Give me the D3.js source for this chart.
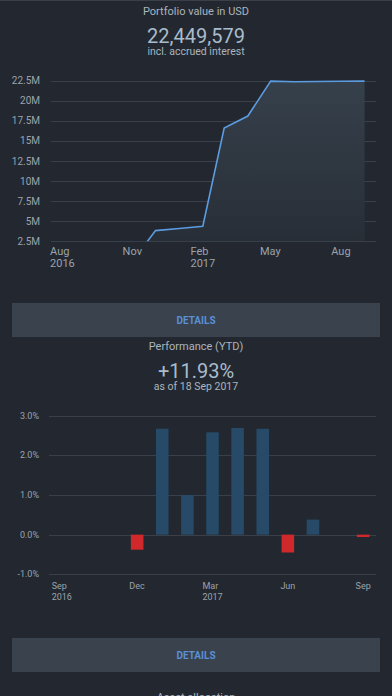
<!DOCTYPE html>
<html>
<head>
<meta charset="utf-8">
<script src="https://cdn.jsdelivr.net/npm/d3@7"></script>
<style>
  html, body { margin: 0; padding: 0; background: #232830; }
  svg { display: block; font-family: Roboto, "Open Sans", sans-serif; }
</style>
</head>
<body>
<div id="canvas"></div>
<script>
// portfolio value (monthly, first of month)
var valueDates = ["2016-11-01", "2016-12-01", "2017-01-01", "2017-02-01", "2017-03-01", "2017-04-01",
                  "2017-05-01", "2017-06-01", "2017-07-01", "2017-08-01", "2017-09-01"];
var valueAmounts = [50000, 3830000, 4100000, 4370000, 16600000, 18100000,
                    22450000, 22360000, 22400000, 22430000, 22449579];
var valueTicks = [2500000, 5000000, 7500000, 10000000, 12500000, 15000000, 17500000, 20000000, 22500000];
var valueTickLabels = ["2.5M", "5M", "7.5M", "10M", "12.5M", "15M", "17.5M", "20M", "22.5M"];
var valueXTicks = [["Aug", "2016"], ["Nov"], ["Feb", "2017"], ["May"], ["Aug"]];
var valueXTickDates = ["2016-08-01", "2016-11-01", "2017-02-01", "2017-05-01", "2017-08-01"];

// monthly performance in %
var perfMonths = ["2016-09", "2016-10", "2016-11", "2016-12", "2017-01", "2017-02", "2017-03",
                  "2017-04", "2017-05", "2017-06", "2017-07", "2017-08", "2017-09"];
var perfValues = [0, 0, 0, -0.38, 2.67, 1.0, 2.58, 2.69, 2.67, -0.45, 0.38, 0, -0.06];
var perfTicks = [-1, 0, 1, 2, 3];
var perfXTicks = {"2016-09": ["Sep", "2016"], "2016-12": ["Dec"], "2017-03": ["Mar", "2017"],
                  "2017-06": ["Jun"], "2017-09": ["Sep"]};

var W = 392, H = 696;
var parse = d3.timeParse("%Y-%m-%d");

function init() {
    var svg = d3.select("#canvas").append("svg")
        .attr("width", W)
        .attr("height", H);
    svg.append("rect").attr("width", W).attr("height", H).attr("fill", "#232830");
    svg.append("line").attr("x1", 0).attr("x2", W).attr("y1", 0.5).attr("y2", 0.5)
        .attr("stroke", "#3b4048");

    var defs = svg.append("defs");
    var grad = defs.append("linearGradient").attr("id", "areaGrad")
        .attr("x1", 0).attr("y1", 0).attr("x2", 0).attr("y2", 1);
    grad.append("stop").attr("offset", "0%").attr("stop-color", "#36404b");
    grad.append("stop").attr("offset", "100%").attr("stop-color", "#262c34");
    defs.append("clipPath").attr("id", "plotClip").append("rect")
        .attr("x", 51).attr("y", 78).attr("width", 325).attr("height", 163.3);

    // header 1 (baselines)
    AddHeader(svg, 15, "Portfolio value in USD", 43, "22,449,579", 54.5, "incl. accrued interest");

    // value chart
    var x = d3.scaleTime()
        .domain([parse("2016-07-17"), parse("2017-09-16")])
        .range([51, 376]);
    var y = d3.scaleLinear()
        .domain([2500000, 22500000])
        .range([241.3, 80.7]);

    var g1 = svg.append("g");
    g1.selectAll("line.grid").data(valueTicks).enter().append("line")
        .attr("x1", 51).attr("x2", 376)
        .attr("y1", function(d) { return Math.round(y(d)) + 0.5; })
        .attr("y2", function(d) { return Math.round(y(d)) + 0.5; })
        .attr("stroke", "#39404a").attr("stroke-width", 1);
    g1.selectAll("text.ylab").data(valueTicks).enter().append("text")
        .attr("x", 40)
        .attr("y", function(d) { return y(d) + 3.5; })
        .attr("text-anchor", "end")
        .attr("font-size", 10)
        .attr("fill", "#9aa3ad")
        .text(function(d, i) { return valueTickLabels[i]; });

    var pts = valueDates.map(function(d, i) { return {date: parse(d), v: valueAmounts[i]}; });
    var plot = g1.append("g").attr("clip-path", "url(#plotClip)");
    plot.append("path").datum(pts)
        .attr("d", d3.area()
            .x(function(d) { return x(d.date); })
            .y0(241.3)
            .y1(function(d) { return y(d.v); }))
        .attr("fill", "url(#areaGrad)");
    plot.append("path").datum(pts)
        .attr("d", d3.line()
            .x(function(d) { return x(d.date); })
            .y(function(d) { return y(d.v); }))
        .attr("fill", "none")
        .attr("stroke", "#5b9be0")
        .attr("stroke-width", 1.6);

    valueXTickDates.forEach(function(d, i) {
        AddTickLabel(g1, x(parse(d)), 255, 12, valueXTicks[i], 11);
    });

    // details button 1
    AddButton(svg, 303, 34);

    // header 2 (baselines)
    AddHeader(svg, 349.5, "Performance (YTD)", 377.5, "+11.93%", 389.5, "as of 18 Sep 2017");

    // performance chart
    var xb = d3.scaleBand()
        .domain(perfMonths)
        .range([49, 376])
        .paddingInner(0.5)
        .paddingOuter(0.26);
    var yb = d3.scaleLinear()
        .domain([-1, 3])
        .range([574.3, 415.7]);

    var g2 = svg.append("g");
    g2.selectAll("line.grid").data(perfTicks).enter().append("line")
        .attr("x1", 49).attr("x2", 376)
        .attr("y1", function(d) { return Math.round(yb(d)) + 0.5; })
        .attr("y2", function(d) { return Math.round(yb(d)) + 0.5; })
        .attr("stroke", "#39404a").attr("stroke-width", 1.2);
    g2.selectAll("text.ylab").data(perfTicks).enter().append("text")
        .attr("x", 39)
        .attr("y", function(d) { return yb(d) + 3; })
        .attr("text-anchor", "end")
        .attr("font-size", 9)
        .attr("fill", "#9aa3ad")
        .text(function(d) { return d.toFixed(1) + "%"; });

    g2.selectAll("rect.bar").data(perfValues).enter().append("rect")
        .attr("x", function(d, i) { return xb(perfMonths[i]); })
        .attr("width", xb.bandwidth())
        .attr("y", function(d) { return d >= 0 ? yb(d) : yb(0); })
        .attr("height", function(d) { return Math.abs(yb(d) - yb(0)); })
        .attr("fill", function(d) { return d >= 0 ? "#264a67" : "#d0282b"; });

    perfMonths.forEach(function(m) {
        if (perfXTicks[m]) {
            AddTickLabel(g2, xb(m) + xb.bandwidth() / 2, 589, 11, perfXTicks[m], 9);
        }
    });

    // details button 2
    AddButton(svg, 638, 34);

    svg.append("text")
        .attr("x", W / 2).attr("y", 701)
        .attr("text-anchor", "middle")
        .attr("font-size", 11)
        .attr("fill", "#aab4be")
        .text("Asset allocation");
}

function AddHeader(svg, y1, title, y2, big, y3, sub) {
    svg.append("text")
        .attr("x", W / 2).attr("y", y1)
        .attr("text-anchor", "middle")
        .attr("font-size", 11)
        .attr("fill", "#aab4be")
        .text(title);
    svg.append("text")
        .attr("x", W / 2).attr("y", y2)
        .attr("text-anchor", "middle")
        .attr("font-size", 20)
        .attr("fill", "#a8bccc")
        .text(big);
    svg.append("text")
        .attr("x", W / 2).attr("y", y3)
        .attr("text-anchor", "middle")
        .attr("font-size", 10.5)
        .attr("fill", "#aab4be")
        .text(sub);
}

function AddButton(svg, y, h) {
    svg.append("rect")
        .attr("x", 12).attr("y", y)
        .attr("width", 368).attr("height", h)
        .attr("fill", "#39424d");
    svg.append("text")
        .attr("x", W / 2).attr("y", y + h / 2 + 3.5)
        .attr("text-anchor", "middle")
        .attr("font-size", 10)
        .attr("font-weight", "bold")
        .attr("fill", "#5b8fd6")
        .text("DETAILS");
}

// block of left-aligned lines, centered on the tick
function AddTickLabel(g, cx, y, dy, lines, size) {
    var t = g.append("text")
        .attr("x", 0).attr("y", y)
        .attr("font-size", size)
        .attr("fill", "#9aa3ad");
    lines.forEach(function(s, i) {
        t.append("tspan").attr("x", 0).attr("y", y + i * dy).text(s);
    });
    var w = t.node().getBBox().width;
    t.attr("transform", "translate(" + (cx - w / 2) + ",0)");
}

window.onload = init();
</script>
</body>
</html>
